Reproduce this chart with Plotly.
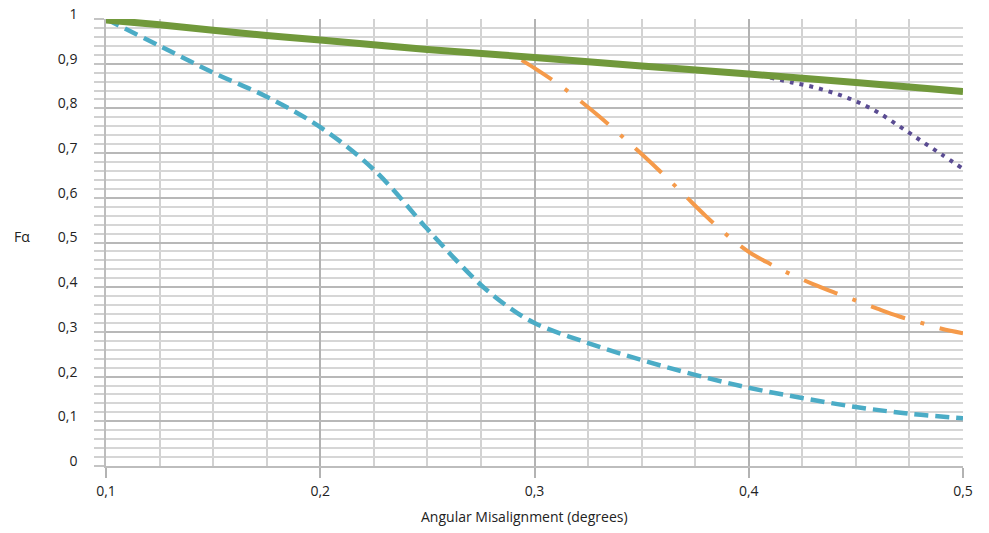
import plotly.graph_objects as go

# ---- data ----
green_x = [0.1, 0.125, 0.15, 0.175, 0.2, 0.25, 0.3, 0.35, 0.4, 0.45, 0.5]
green_y = [0.998, 0.987, 0.975, 0.963, 0.953, 0.932, 0.914, 0.895, 0.877, 0.858, 0.838]

cyan_x = [0.1, 0.125, 0.15, 0.175, 0.2, 0.225, 0.25, 0.2625, 0.275, 0.2875, 0.3,
          0.325, 0.35, 0.375, 0.4, 0.425, 0.45, 0.475, 0.5]
cyan_y = [1.0, 0.94, 0.88, 0.826, 0.758, 0.663, 0.53, 0.465, 0.405, 0.357, 0.32,
          0.275, 0.237, 0.204, 0.175, 0.152, 0.132, 0.117, 0.107]

orange_x = [0.294, 0.30, 0.31, 0.32, 0.33, 0.34, 0.35, 0.36, 0.37, 0.38, 0.39, 0.40,
            0.41, 0.42, 0.43, 0.44, 0.45, 0.46, 0.47, 0.48, 0.49, 0.50]
orange_y = [0.908, 0.890, 0.858, 0.822, 0.783, 0.741, 0.698, 0.653, 0.606, 0.559, 0.516, 0.479,
            0.452, 0.428, 0.407, 0.388, 0.370, 0.352, 0.335, 0.321, 0.307, 0.297]

purple_x = [0.41, 0.42, 0.43, 0.44, 0.45, 0.46, 0.47, 0.48, 0.49, 0.50]
purple_y = [0.869, 0.858, 0.848, 0.834, 0.816, 0.792, 0.761, 0.729, 0.697, 0.665]

x_ticks = [0.1, 0.2, 0.3, 0.4, 0.5]
y_ticks = [0, 0.1, 0.2, 0.3, 0.4, 0.5, 0.6, 0.7, 0.8, 0.9, 1]
x_title = "Angular Misalignment (degrees)"
y_title = "Fα"

FONT = "Open Sans"

fig = go.Figure()
fig.add_trace(go.Scatter(x=cyan_x, y=cyan_y, mode="lines", line_shape="spline",
                         line=dict(color="#4bacc6", width=4.5, dash="14px,7px"),
                         showlegend=False))
fig.add_trace(go.Scatter(x=orange_x, y=orange_y, mode="lines", line_shape="spline",
                         line=dict(color="#f59a4a", width=4, dash="36px,16px,4px,16px"),
                         showlegend=False))
fig.add_trace(go.Scatter(x=purple_x, y=purple_y, mode="lines", line_shape="spline",
                         line=dict(color="#5a4c92", width=4, dash="4px,6px"),
                         showlegend=False))
fig.add_trace(go.Scatter(x=green_x, y=green_y, mode="lines", line_shape="spline",
                         line=dict(color="#71993b", width=7),
                         showlegend=False))

fig.update_layout(
    width=989, height=533,
    margin=dict(l=98, r=34, t=11, b=75),
    paper_bgcolor="white", plot_bgcolor="white",
    separators=", ",
    font=dict(family=FONT, size=14, color="#222222"),
    showlegend=False,
    xaxis=dict(
        range=[0.1, 0.5], tickvals=x_ticks, tickformat=".1f",
        showgrid=True, gridcolor="#b3b3b3", gridwidth=1.5,
        ticks="outside", ticklen=10, tickcolor="#b3b3b3", tickwidth=1.5,
        minor=dict(dtick=0.025, tick0=0.1, showgrid=True, gridcolor="#d2d2d2", gridwidth=1.5),
        showline=True, linecolor="#bdbdbd", linewidth=1.5,
        zeroline=False, automargin=False,
        ticklabelstandoff=1, ticklabeloverflow="allow",
    ),
    yaxis=dict(
        range=[0, 1], tickvals=y_ticks,
        showgrid=True, gridcolor="#b8b8b8", gridwidth=1.5,
        ticks="outside", ticklen=10, tickcolor="#c4c4c4", tickwidth=1.5,
        minor=dict(dtick=0.02, tick0=0, showgrid=True, gridcolor="#d6d6d6", gridwidth=1.5,
                   ticks="outside", ticklen=10, tickcolor="#d0d0d0"),
        showline=True, linecolor="#bdbdbd", linewidth=1.5,
        zeroline=False, automargin=False,
        ticklabelstandoff=14, ticklabelshift=-5, ticklabeloverflow="allow",
    ),
    annotations=[
        dict(text=y_title, xref="paper", yref="paper", xanchor="center", yanchor="middle",
             x=-0.098, y=0.513, showarrow=False,
             font=dict(family=FONT, size=14, color="#222222")),
        dict(text=x_title, xref="paper", yref="paper", xanchor="center", yanchor="middle",
             x=0.488, y=-0.114, showarrow=False,
             font=dict(family=FONT, size=14, color="#222222")),
    ],
)

fig.write_html("out.html")
